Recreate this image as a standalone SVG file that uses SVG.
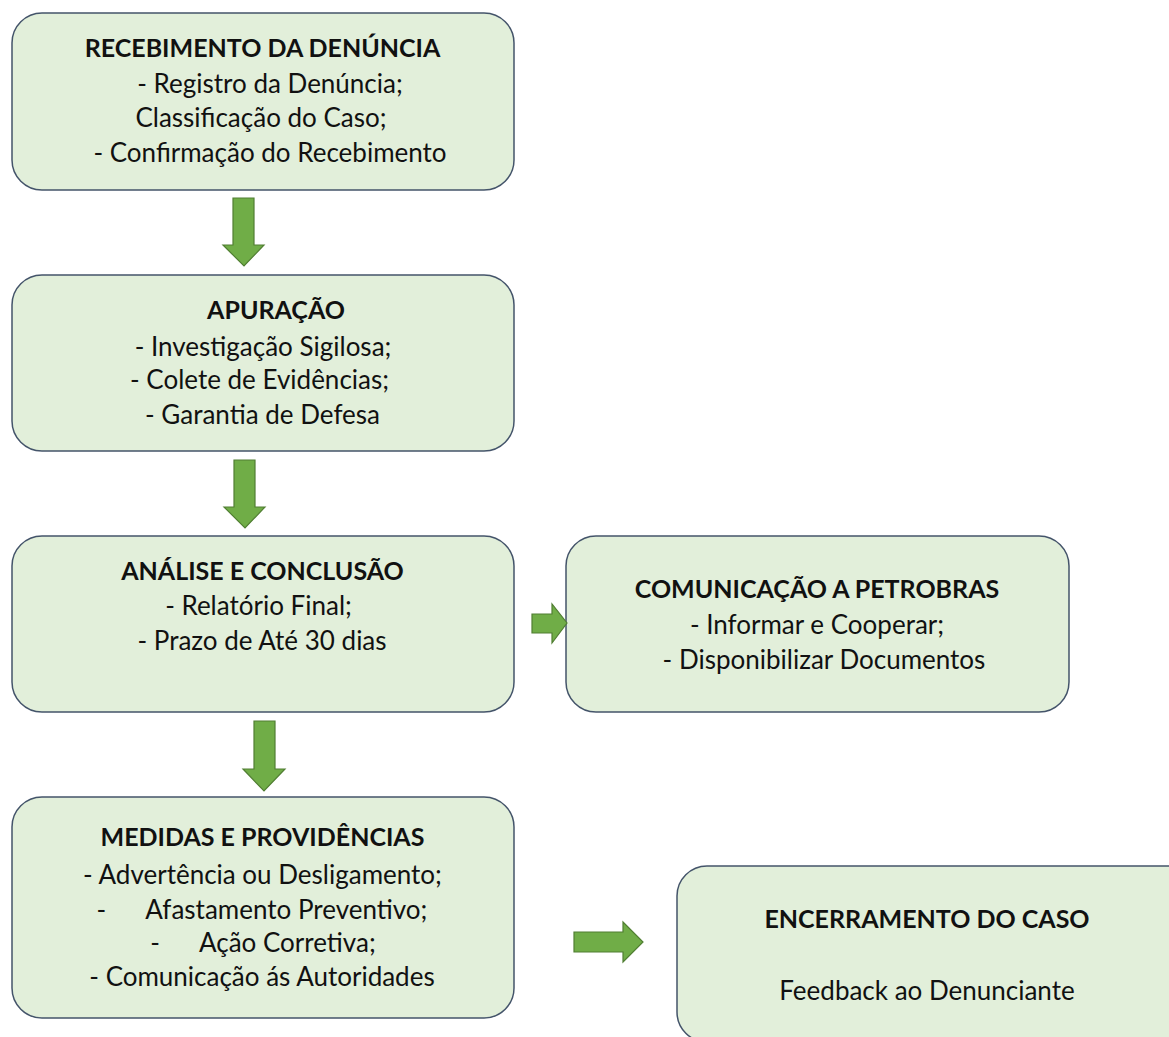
<svg xmlns="http://www.w3.org/2000/svg" width="1169" height="1037" viewBox="0 0 1169 1037">
<style>
.box{fill:#e2efda;stroke:#44546a;stroke-width:1.5}
.arr{fill:#70ad47;stroke:#507e32;stroke-width:1.2}
text{font-family:Lato,"Open Sans","Liberation Sans",sans-serif;font-size:26px;fill:#111;text-anchor:middle;white-space:pre}
.t{font-weight:bold;font-size:25px}
</style>
<rect width="1169" height="1037" fill="#fff"/>
<g id="n1">
<rect class="box" x="12" y="13" width="502" height="177" rx="30"/>
<text class="t" x="262.5" y="57">RECEBIMENTO DA DENÚNCIA</text>
<text x="270" y="93">- Registro da Denúncia;</text>
<text x="261" y="127">Classificação do Caso;</text>
<text x="270" y="162">- Confirmação do Recebimento</text>
</g>
<g id="n2">
<rect class="box" x="12" y="275" width="502" height="176" rx="30"/>
<text class="t" x="276" y="319">APURAÇÃO</text>
<text x="263" y="356">- Investigação Sigilosa;</text>
<text x="259.5" y="389">- Colete de Evidências;</text>
<text x="262.5" y="424">- Garantia de Defesa</text>
</g>
<g id="n3">
<rect class="box" x="12" y="536" width="502" height="176" rx="30"/>
<text class="t" x="262.5" y="580">ANÁLISE E CONCLUSÃO</text>
<text x="258.5" y="615">- Relatório Final;</text>
<text x="262" y="650">- Prazo de Até 30 dias</text>
</g>
<g id="n4">
<rect class="box" x="566" y="536" width="503" height="176" rx="30"/>
<text class="t" x="817" y="598">COMUNICAÇÃO A PETROBRAS</text>
<text x="817" y="634">- Informar e Cooperar;</text>
<text x="824" y="669">- Disponibilizar Documentos</text>
</g>
<g id="n5">
<rect class="box" x="12" y="797" width="502" height="221" rx="30"/>
<text class="t" x="262.5" y="846">MEDIDAS E PROVIDÊNCIAS</text>
<text x="262.5" y="884">- Advertência ou Desligamento;</text>
<text x="262" y="919">-      Afastamento Preventivo;</text>
<text x="263" y="952">-      Ação Corretiva;</text>
<text x="262" y="986">- Comunicação ás Autoridades</text>
</g>
<g id="n6">
<rect class="box" x="677" y="866" width="520" height="176" rx="30"/>
<text class="t" x="927" y="928">ENCERRAMENTO DO CASO</text>
<text x="927" y="1000">Feedback ao Denunciante</text>
</g>
<g id="connectors">
<polygon class="arr" points="233,198 254,198 254,245 264,245 244,266 223,245 233,245"/>
<polygon class="arr" points="234,460 255,460 255,507 265,507 245,528 224,507 234,507"/>
<polygon class="arr" points="254,721 275,721 275,769 285,769 264,791 243,769 254,769"/>
<polygon class="arr" points="532,614 552,614 552,604 567,623 552,643 552,633 532,633"/>
<polygon class="arr" points="574,932 623,932 623,922 643,942 623,962 623,952 574,952"/>
</g>
</svg>
